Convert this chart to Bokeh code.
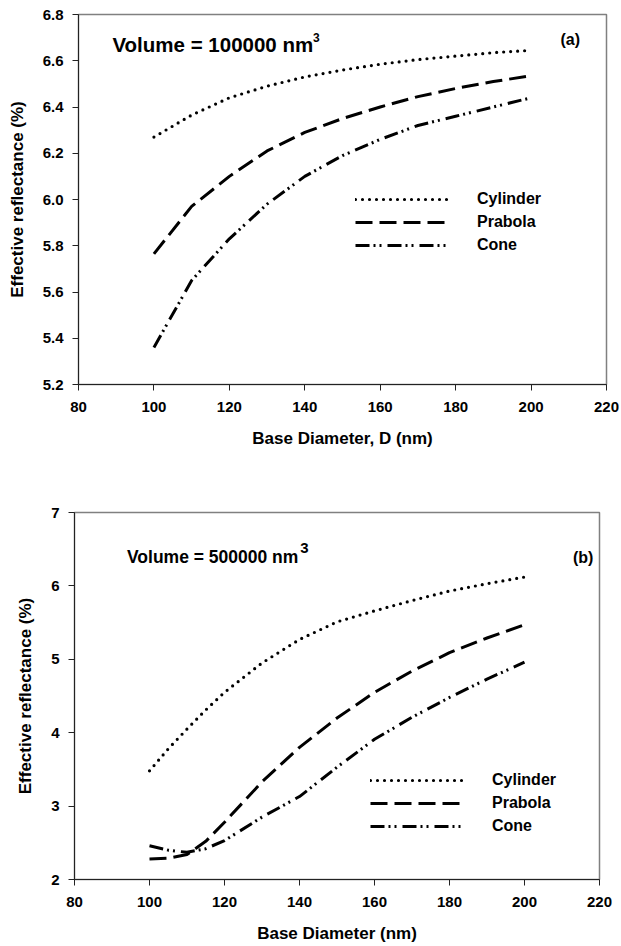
from bokeh.plotting import figure
from bokeh.models import Range1d, FixedTicker, PrintfTickFormatter, Legend, LegendItem, Label
from bokeh.layouts import column
from bokeh.embed import file_html
from bokeh.resources import INLINE

# ---------------- data (a): Volume = 100000 nm^3 ----------------
diam_a = [100, 110, 120, 130, 140, 150, 160, 170, 180, 190, 200]
cyl_a = [6.27, 6.365, 6.44, 6.49, 6.53, 6.56, 6.585, 6.605, 6.62, 6.635, 6.645]
par_a = [5.765, 5.97, 6.10, 6.21, 6.29, 6.35, 6.40, 6.445, 6.48, 6.51, 6.535]
cone_a = [5.36, 5.65, 5.83, 5.98, 6.10, 6.19, 6.26, 6.32, 6.36, 6.40, 6.44]

# ---------------- data (b): Volume = 500000 nm^3 ----------------
diam_b = [100, 105, 110, 115, 120, 130, 140, 150, 160, 170, 180, 190, 200]
cyl_b = [3.48, 3.78, 4.05, 4.31, 4.55, 4.95, 5.27, 5.51, 5.66, 5.80, 5.93, 6.03, 6.12]
par_b = [2.28, 2.29, 2.34, 2.52, 2.78, 3.33, 3.80, 4.20, 4.55, 4.84, 5.09, 5.29, 5.47]
cone_b = [2.46, 2.40, 2.37, 2.42, 2.53, 2.85, 3.13, 3.53, 3.91, 4.21, 4.48, 4.73, 4.96]

series_names = ["Cylinder", "Prabola", "Cone"]
x_ticks = [80, 100, 120, 140, 160, 180, 200, 220]
y_ticks_a = [5.2, 5.4, 5.6, 5.8, 6.0, 6.2, 6.4, 6.6, 6.8]
y_ticks_b = [2, 3, 4, 5, 6, 7]

FONT = "Liberation Sans"
styles = [
    dict(line_dash="0 7", line_cap="round", line_width=3.2),
    dict(line_dash="17 7", line_cap="butt", line_width=3),
    dict(line_dash="14 4 2 4 2 6", line_cap="butt", line_width=3),
]


def make_fig(width, height, borders, margin_left, yr, yticks, yfmt, xs, ys_list,
             legend_loc, xlabel):
    top, right, bottom, left = borders
    p = figure(width=width, height=height, output_backend="svg", toolbar_location=None,
               x_range=Range1d(80, 220), y_range=Range1d(*yr),
               min_border_top=top, min_border_right=right,
               min_border_bottom=bottom, min_border_left=left,
               margin=(0, 0, 0, margin_left))
    p.grid.visible = False
    p.outline_line_color = "#808080"
    p.outline_line_width = 1.5
    p.background_fill_color = "white"
    p.border_fill_color = "white"
    for ax in (p.xaxis[0], p.yaxis[0]):
        ax.axis_line_color = "#222222"
        ax.major_tick_line_color = "#222222"
        ax.major_tick_out = 6
        ax.major_tick_in = 0
        ax.minor_tick_out = 0
        ax.minor_tick_in = 0
        ax.major_label_text_font = FONT
        ax.major_label_text_font_style = "bold"
        ax.major_label_text_font_size = "15px"
        ax.major_label_text_color = "black"
        ax.axis_label_text_font = FONT
        ax.axis_label_text_font_style = "bold"
        ax.axis_label_text_font_size = "17px"
        ax.axis_label_text_color = "black"
        ax.major_label_standoff = 9
    p.xaxis.ticker = FixedTicker(ticks=x_ticks)
    p.yaxis.ticker = FixedTicker(ticks=yticks)
    p.yaxis.formatter = PrintfTickFormatter(format=yfmt)
    p.yaxis.axis_label = "Effective reflectance (%)"
    p.yaxis.axis_label_standoff = 13
    p.xaxis.major_label_standoff = 11
    p.xaxis.axis_label = xlabel
    p.xaxis.axis_label_standoff = 14
    items = []
    for name, ys, st in zip(series_names, ys_list, styles):
        r = p.line(xs, ys, line_color="black", **st)
        items.append(LegendItem(label=name, renderers=[r]))
    leg = Legend(items=items, location=legend_loc, border_line_color=None,
                 background_fill_alpha=0, padding=0, margin=0, glyph_width=95,
                 glyph_height=20, label_height=20, spacing=3, label_standoff=27,
                 label_text_font=FONT, label_text_font_style="bold",
                 label_text_font_size="16px", label_text_color="black")
    p.add_layout(leg, "center")
    return p


def txt(p, x, y, s, size, style="bold", align="left"):
    p.add_layout(Label(x=x, y=y, text=s, text_font=FONT, text_font_style=style,
                       text_font_size=size, text_color="black",
                       text_baseline="middle", text_align=align))


# (a): frame 79..606 px, 14..384 px
pa = make_fig(617, 470, (14, 15, 86, 69), 4, (5.2, 6.8), y_ticks_a, "%.1f", diam_a,
              [cyl_a, par_a, cone_a], (277, 129), "Base Diameter, D (nm)")
txt(pa, 89.0, 6.670, "Volume = 100000 nm", "20.5px")
txt(pa, 142.2, 6.700, "3", "12px")
txt(pa, 207.8, 6.692, "(a)", "16px")

# (b): frame 69..599 px, 512..879 px
pb = make_fig(614, 476, (42, 15, 67, 69), 0, (2, 7), y_ticks_b, "%d", diam_b,
              [cyl_b, par_b, cone_b], (296, 43), "Base Diameter (nm)")
txt(pb, 94.0, 6.387, "Volume = 500000 nm", "17.5px")
txt(pb, 140.2, 6.510, "3", "15px")
txt(pb, 212.9, 6.387, "(b)", "16px")

layout = column(pa, pb, spacing=0)
open("out.html", "w").write(file_html(layout, INLINE))
